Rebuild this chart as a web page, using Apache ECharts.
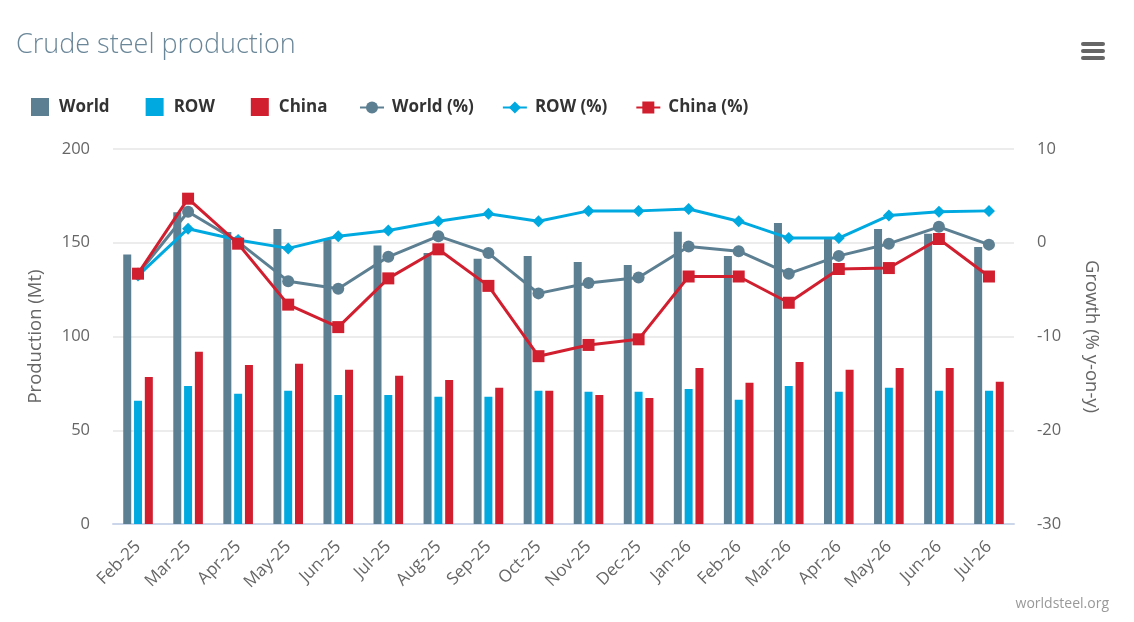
<!DOCTYPE html>
<html>
<head>
<meta charset="utf-8">
<title>Crude steel production</title>
<script src="https://cdn.jsdelivr.net/npm/echarts@6/dist/echarts.min.js"></script>
<style>
    html, body { margin: 0; padding: 0; background: #fff; }
    #main { width: 1134px; height: 622px; }
</style>
</head>
<body>
<div id="main"></div>
<script>
// months on the x axis
const months = ['Feb-25', 'Mar-25', 'Apr-25', 'May-25', 'Jun-25', 'Jul-25', 'Aug-25', 'Sep-25', 'Oct-25',
    'Nov-25', 'Dec-25', 'Jan-26', 'Feb-26', 'Mar-26', 'Apr-26', 'May-26', 'Jun-26', 'Jul-26']

// production, Mt
const worldMt = [143.8, 166.3, 155.7, 157.3, 151.8, 148.6, 144.5, 141.5, 142.9, 139.7, 138.1, 155.9, 142.9, 160.6, 152.7, 157.3, 154.8, 147.7]
const rowMt = [65.8, 73.6, 69.5, 71.1, 68.8, 68.8, 67.9, 67.9, 71.1, 70.6, 70.6, 72.0, 66.3, 73.6, 70.6, 72.7, 71.1, 71.1]
const chinaMt = [78.4, 91.9, 84.8, 85.5, 82.3, 79.1, 76.8, 72.7, 71.1, 68.8, 67.2, 83.2, 75.4, 86.4, 82.3, 83.2, 83.2, 75.9]

// growth, % y-on-y
const worldPct = [-3.3, 3.3, 0.1, -4.1, -4.9, -1.5, 0.7, -1.1, -5.4, -4.3, -3.7, -0.4, -0.9, -3.3, -1.4, -0.1, 1.7, -0.2]
const rowPct = [-3.5, 1.5, 0.3, -0.6, 0.7, 1.3, 2.3, 3.1, 2.3, 3.4, 3.4, 3.6, 2.3, 0.5, 0.5, 2.9, 3.3, 3.4]
const chinaPct = [-3.3, 4.7, -0.1, -6.6, -9.0, -3.8, -0.7, -4.6, -12.1, -10.9, -10.3, -3.6, -3.6, -6.4, -2.8, -2.7, 0.4, -3.6]

const COLORS = {
    world: '#5d7f92',
    row: '#00a9e0',
    china: '#d11f2f',
}

const FONT = '"Open Sans", "DejaVu Sans", sans-serif'

window.addEventListener('load', () => {
    main()
})

function main() {
    const chart = echarts.init(document.getElementById('main'), null, { renderer: 'canvas' })

    const barCommon = {
        type: 'bar',
        yAxisIndex: 0,
        barWidth: 8,
        barGap: '35%',
    }
    const legendText = {
        fontFamily: FONT,
        fontSize: 17,
        fontWeight: 'bold',
        color: '#333',
    }

    // line series share everything but name, data, marker and colour
    function growthLine(name, data, symbol, color) {
        return {
            type: 'line',
            yAxisIndex: 1,
            name,
            data,
            symbol,
            symbolSize: 12,
            itemStyle: { color },
            lineStyle: { width: 3, color },
            z: 5,
        }
    }

    const option = {
        animation: false,
        textStyle: { fontFamily: FONT },
        title: {
            text: 'Crude steel production',
            left: 16,
            top: 32,
            padding: 0,
            textStyle: {
                fontFamily: FONT,
                fontSize: 27,
                fontWeight: 300,
                color: '#6a8799',
            },
        },
        legend: [
            {
                data: ['World', 'ROW', 'China'],
                left: 31,
                top: 98,
                padding: 0,
                icon: 'rect',
                itemWidth: 18,
                itemHeight: 18,
                itemGap: 36,
                textStyle: { ...legendText, padding: [0, 0, 0, 5] },
            },
            {
                data: ['World (%)', 'ROW (%)', 'China (%)'],
                left: 359,
                top: 99,
                padding: 0,
                itemWidth: 24,
                itemHeight: 15,
                itemGap: 28,
                textStyle: { ...legendText, padding: [0, 0, 0, 3] },
            },
        ],
        grid: {
            left: 113,
            right: 120,
            top: 149,
            bottom: 98,
        },
        xAxis: {
            type: 'category',
            data: months,
            axisLine: { lineStyle: { color: '#ccd6eb', width: 2 } },
            axisTick: { show: false },
            axisLabel: {
                rotate: 45,
                interval: 0,
                margin: 20,
                fontSize: 17,
                color: '#666',
            },
        },
        yAxis: [
            {
                type: 'value',
                min: 0,
                max: 200,
                interval: 50,
                name: 'Production (Mt)',
                nameLocation: 'middle',
                nameGap: 68,
                nameTextStyle: { fontSize: 18.5, color: '#666' },
                axisLine: { show: false },
                axisTick: { show: false },
                axisLabel: { fontSize: 16.5, color: '#666', margin: 23 },
                splitLine: { lineStyle: { color: '#e6e6e6', width: 1.5 } },
            },
            {
                type: 'value',
                min: -30,
                max: 10,
                interval: 10,
                name: 'Growth (% y-on-y)',
                nameLocation: 'middle',
                nameRotate: -90,
                nameGap: 68,
                nameTextStyle: { fontSize: 18.5, color: '#666' },
                axisLine: { show: false },
                axisTick: { show: false },
                axisLabel: { fontSize: 16.5, color: '#666', margin: 23 },
                splitLine: { show: false },
            },
        ],
        series: [
            { ...barCommon, name: 'World', data: worldMt, itemStyle: { color: COLORS.world } },
            { ...barCommon, name: 'ROW', data: rowMt, itemStyle: { color: COLORS.row } },
            { ...barCommon, name: 'China', data: chinaMt, itemStyle: { color: COLORS.china } },
            growthLine('World (%)', worldPct, 'circle', COLORS.world),
            growthLine('ROW (%)', rowPct, 'diamond', COLORS.row),
            { ...growthLine('China (%)', chinaPct, 'rect', COLORS.china), z: 6 },
        ],
        graphic: [
            // menu button
            { type: 'rect', left: 1081, top: 42, shape: { width: 24, height: 4, r: 2 }, style: { fill: '#666' } },
            { type: 'rect', left: 1081, top: 49, shape: { width: 24, height: 4, r: 2 }, style: { fill: '#666' } },
            { type: 'rect', left: 1081, top: 56, shape: { width: 24, height: 4, r: 2 }, style: { fill: '#666' } },
            // credit
            {
                type: 'text',
                right: 25,
                top: 597,
                style: {
                    text: 'worldsteel.org',
                    fontFamily: FONT,
                    fontSize: 14,
                    fill: '#999',
                },
            },
        ],
    }

    chart.setOption(option)
}
</script>
</body>
</html>
